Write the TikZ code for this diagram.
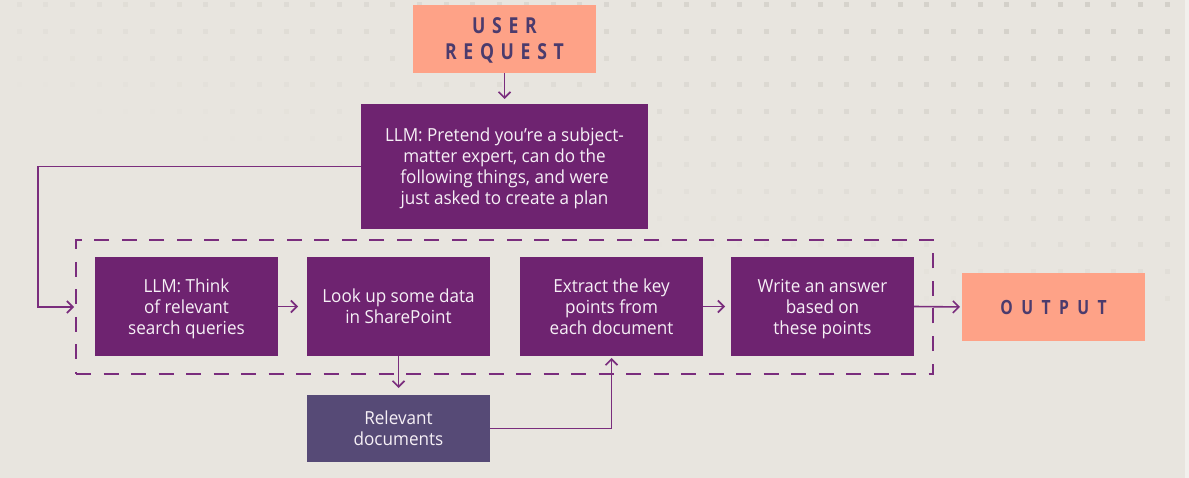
\documentclass[tikz,border=0pt]{standalone}
\usepackage{fontspec}
\setmainfont{Open Sans}[FakeStretch=0.95]
\newfontfamily\headfont{Open Sans}[FakeStretch=0.8]
\usetikzlibrary{arrows.meta}
\definecolor{bgc}{HTML}{E8E5DF}
\definecolor{dotc}{HTML}{D3D0C9}
\definecolor{boxpurple}{HTML}{6E2370}
\definecolor{docpurple}{HTML}{564A76}
\definecolor{salmon}{HTML}{FEA287}
\definecolor{headtext}{HTML}{4B3B6D}
\definecolor{boxtext}{HTML}{F6F0F6}
\definecolor{linec}{HTML}{7A2D7D}
\newcommand\lsp{\kern6.7pt\relax}
\newcommand\lspo{\kern8.4pt\relax}
\begin{document}
\begin{tikzpicture}[x=1pt,y=-1pt,
  stepbox/.style={fill=boxpurple, text=boxtext, align=center, inner sep=0pt, outer sep=0pt,
    minimum width=183pt, minimum height=99pt, text depth=0pt,
    font=\fontsize{18}{21}\selectfont},
  headbox/.style={fill=salmon, text=headtext, align=center, inner sep=0pt, outer sep=0pt,
    minimum width=183pt, minimum height=68pt, text depth=0pt},
  grpbox/.style={draw=linec, line width=2pt, dash pattern=on 15pt off 12.5pt,
    inner sep=0pt, outer sep=0pt, minimum width=857pt, minimum height=134pt},
  conn/.style={draw=linec, line width=1.6pt, -{Straight Barb[length=6pt,width=12pt]}}
]
\useasboundingbox (0,0) rectangle (1189,478);
\fill[bgc] (0,0) rectangle (1189,478);
\fill[white, opacity=0.45] (1185,0) rectangle (1189,478);
% dot grid
\foreach \i in {0,...,43}{
  \foreach \j in {0,...,11}{
    \pgfmathsetmacro\dx{19+26.7*\i}
    \pgfmathsetmacro\dy{4.7+26.7*\j}
    \pgfmathsetmacro\op{max(0,min(1,1.1-(1189-\dx)/1400-\dy/350))}
    \fill[dotc, opacity=\op] (\dx-2.5,\dy-2.5) rectangle ++(5,5);
  }
}
% group
\node[grpbox] (grp) at (504.5,307) {};
% nodes
\node[headbox, font=\headfont\bfseries\fontsize{22}{26}\selectfont] (ur) at (504.5,39)
  {U\lsp S\lsp E\lsp R\\R\lsp E\lsp Q\lsp U\lsp E\lsp S\lsp T};
\node[stepbox, minimum width=287pt, minimum height=125pt] (plan) at (504.5,166.5)
  {LLM: Pretend you’re a subject-\\matter expert, can do the\\following things, and were\\just asked to create a plan};
\node[stepbox] (think) at (186.5,306.5) {LLM: Think\\of relevant\\search queries};
\node[stepbox] (look) at (398.5,306.5) {Look up some data\\in SharePoint};
\node[stepbox] (extract) at (611.5,306.5) {Extract the key\\points from\\each document};
\node[stepbox] (write) at (822.5,306.5) {Write an answer\\based on\\these points};
\node[headbox, font=\headfont\bfseries\fontsize{19.6}{24}\selectfont] (out) at (1053.5,307)
  {O\lspo U\lspo T\lspo P\lspo U\lspo T};
\node[stepbox, fill=docpurple, minimum height=67pt] (rel) at (398.5,428.5) {Relevant\\documents};
% connectors
\coordinate (fb) at (38,166.5);
\draw[conn, shorten >=5pt] (ur.south) -- (plan.north);
\draw[conn, shorten >=2pt] (plan.west) -- (fb) |- (grp.west);
\draw[conn, shorten >=9pt] (think.east) -- (look.west);
\draw[conn, shorten >=6pt] (extract.east) -- (write.west);
\draw[conn, shorten >=2pt] (write.east) -- (out.west);
\draw[conn, shorten >=7pt] (look.south) -- (rel.north);
\draw[conn, shorten >=2pt] (rel.east) -| (extract.south);
\end{tikzpicture}
\end{document}
